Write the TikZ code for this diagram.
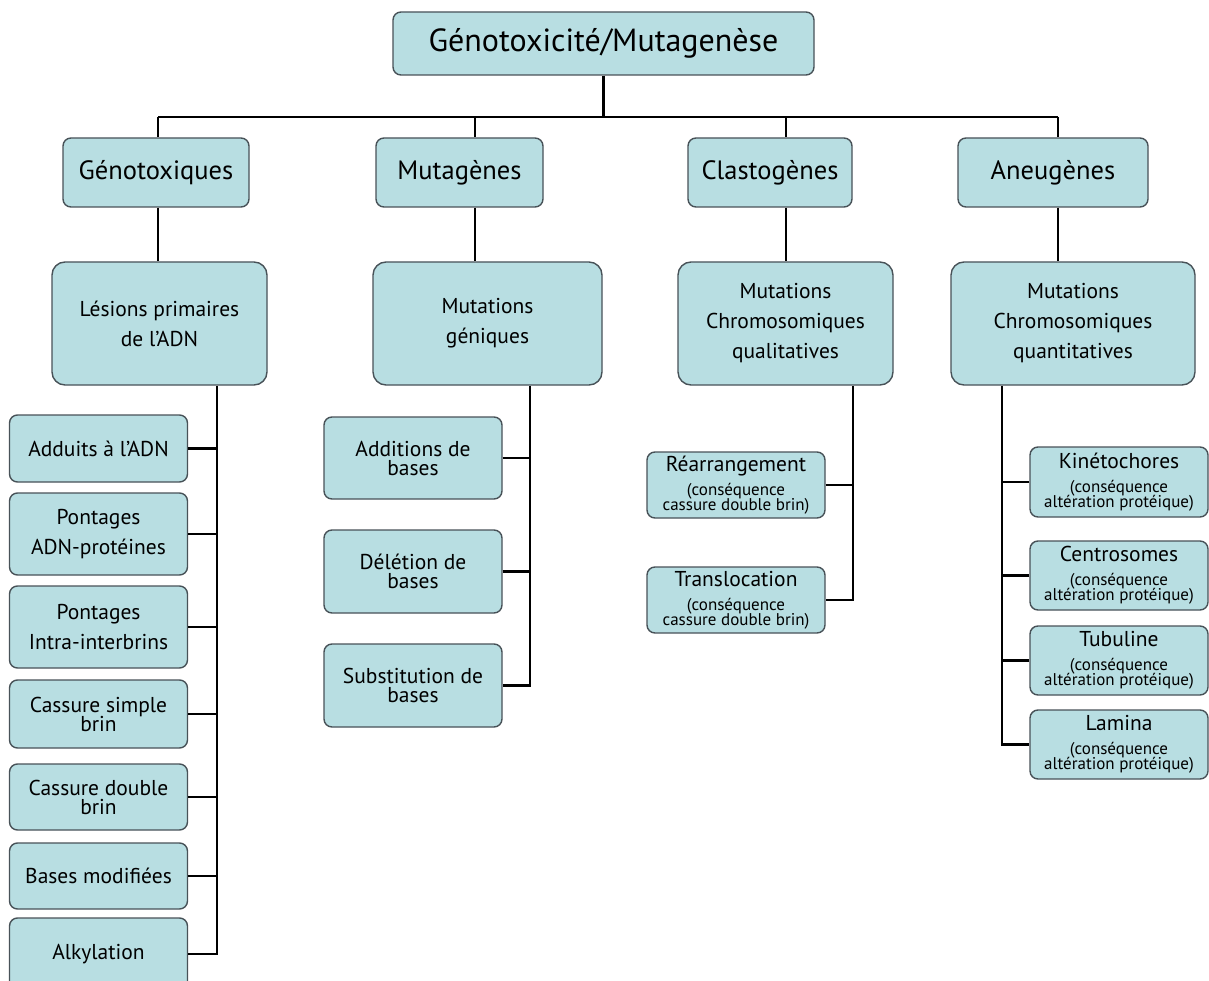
\documentclass[tikz,border=0pt]{standalone}
\usepackage{fontspec}
\setmainfont{PT Sans}
\usetikzlibrary{positioning, calc}
\definecolor{boxfill}{RGB}{184,222,226}
\definecolor{boxline}{RGB}{72,82,88}
\tikzset{
  box/.style={draw=boxline, fill=boxfill, line width=1.4pt, rounded corners=8pt, align=center, inner sep=2pt},
  topbox/.style={box, font=\fontsize{32}{34}\selectfont, minimum width=421, minimum height=63},
  catbox/.style={box, font=\fontsize{26.5}{28}\selectfont, minimum height=69},
  grpbox/.style={box, rounded corners=13pt, font=\fontsize{21.5}{30}\selectfont, minimum height=123},
  leaf/.style={box, font=\fontsize{21.5}{30}\selectfont, minimum width=178},
  link/.style={draw=black, line width=2.9pt}
}
\newcommand{\cq}{\fontsize{17}{17}\selectfont}

\begin{document}
\begin{tikzpicture}[x=1pt, y=-1pt]
\useasboundingbox (0,0) rectangle (1209,981);
% ---------- top ----------
\node[topbox] (top) at (603.5,43.5) {Génotoxicité/Mutagenèse};
% ---------- categories ----------
\node[catbox, minimum width=186] (geno)  at (156,172.5)  {Génotoxiques};
\node[catbox, minimum width=167] (mutag) at (459.5,172.5) {Mutagènes};
\node[catbox, minimum width=164] (clast) at (770,172.5)  {Clastogènes};
\node[catbox, minimum width=190] (aneu)  at (1053,172.5) {Aneugènes};
% ---------- groups ----------
\node[grpbox, minimum width=215] (lesion) at (159.5,323.5) {Lésions primaires\\de l’ADN};
\node[grpbox, minimum width=229] (mgen)   at (487.5,323.5) {Mutations\\géniques};
\node[grpbox, minimum width=215] (qual)   at (785.5,323.5) {Mutations\\Chromosomiques\\qualitatives};
\node[grpbox, minimum width=244] (quant)  at (1073,323.5)  {Mutations\\Chromosomiques\\quantitatives};
% ---------- lesions primaires ----------
\node[leaf, minimum height=67] (add) at (98.5,448.5) {Adduits à l’ADN};
\node[leaf, minimum height=82] (pad) at (98.5,534)   {Pontages\\ADN-protéines};
\node[leaf, minimum height=82] (pii) at (98.5,627)   {Pontages\\Intra-interbrins};
\node[leaf, minimum height=68] (css) at (98.5,714)   {Cassure simple\\[-11pt]brin};
\node[leaf, minimum height=66] (csd) at (98.5,797)   {Cassure double\\[-11pt]brin};
\node[leaf, minimum height=66] (bm)  at (98.5,876)   {Bases modifiées};
\node[leaf, minimum height=72] (alk) at (98.5,954)   {Alkylation};
% ---------- mutations geniques ----------
\node[leaf, minimum height=82] (adb)  at (413,458)   {Additions de\\[-11pt]bases};
\node[leaf, minimum height=83] (delb) at (413,571.5) {Délétion de\\[-11pt]bases};
\node[leaf, minimum height=83] (subb) at (413,685.5) {Substitution de\\[-11pt]bases};
% ---------- qualitatives ----------
\node[leaf, minimum height=66] (rea) at (736,485)
  {Réarrangement\\[-6pt]{\cq (conséquence}\\[-15pt]{\cq cassure double brin)}};
\node[leaf, minimum height=66] (trl) at (736,600)
  {Translocation\\[-6pt]{\cq (conséquence}\\[-15pt]{\cq cassure double brin)}};
% ---------- quantitatives ----------
\node[leaf, minimum height=70] (kin) at (1119,482)
  {Kinétochores\\[-6pt]{\cq (conséquence}\\[-15pt]{\cq altération protéique)}};
\node[leaf, minimum height=69] (cen) at (1119,575.5)
  {Centrosomes\\[-6pt]{\cq (conséquence}\\[-15pt]{\cq altération protéique)}};
\node[leaf, minimum height=69] (tub) at (1119,660.5)
  {Tubuline\\[-6pt]{\cq (conséquence}\\[-15pt]{\cq altération protéique)}};
\node[leaf, minimum height=69] (lam) at (1119,744.5)
  {Lamina\\[-6pt]{\cq (conséquence}\\[-15pt]{\cq altération protéique)}};
% ---------- connections ----------
\coordinate (c1) at (158,117);
\coordinate (c2) at (475,117);
\coordinate (c3) at (786,117);
\coordinate (c4) at (1058,117);
\draw[link] (top.south) -- (top.south |- c1);
\draw[link] (c1) -- (c4);
\foreach \p/\k/\g in {c1/geno/lesion, c2/mutag/mgen, c3/clast/qual, c4/aneu/quant} {
  \draw[link] (\p) -- (\p |- \k.north);
  \draw[link] (\p |- \k.south) -- (\p |- \g.north);
}
\coordinate (b1) at (217,0);
\coordinate (b2) at (530,0);
\coordinate (b3) at (853,0);
\coordinate (b4) at (1002,0);
\draw[link] (lesion.south -| b1) |- (alk.east);
\foreach \n in {add,pad,pii,css,csd,bm}
  \draw[link] (\n.east) -- (\n.east -| b1);
\draw[link] (mgen.south -| b2) |- (subb.east);
\foreach \n in {adb,delb}
  \draw[link] (\n.east) -- (\n.east -| b2);
\draw[link] (qual.south -| b3) |- (trl.east);
\draw[link] (rea.east) -- (rea.east -| b3);
\draw[link] (quant.south -| b4) |- (lam.west);
\foreach \n in {kin,cen,tub}
  \draw[link] (\n.west) -- (\n.west -| b4);
\end{tikzpicture}
\end{document}
